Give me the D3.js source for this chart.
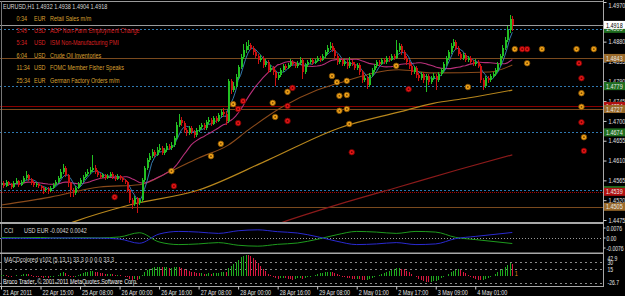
<!DOCTYPE html>
<html><head><meta charset="utf-8">
<script src="https://cdn.jsdelivr.net/npm/d3@7"></script>
<style>html,body{margin:0;padding:0;background:#000;overflow:hidden}</style>
</head><body><svg id="c" width="625" height="296"></svg>
<script>
// ---------- DATA ----------
const firstOpen = 1.4555;
const closes = [
1.4559,1.4552,1.4561,1.4557,1.4550,1.4559,1.4563,1.4555,1.4561,1.4570,
1.4577,1.4568,1.4559,1.4555,1.4557,1.4552,1.4548,1.4543,1.4546,1.4541,
1.4548,1.4555,1.4561,1.4570,1.4584,1.4593,1.4577,1.4559,1.4543,1.4536,
1.4548,1.4557,1.4566,1.4573,1.4580,1.4584,1.4589,1.4593,1.4584,1.4577,
1.4573,1.4577,1.4570,1.4575,1.4580,1.4573,1.4568,1.4575,1.4570,1.4566,
1.4561,1.4543,1.4520,1.4511,1.4525,1.4514,1.4520,1.4566,1.4593,1.4611,
1.4620,1.4629,1.4623,1.4634,1.4638,1.4627,1.4634,1.4643,1.4638,1.4645,
1.4661,1.4691,1.4702,1.4695,1.4679,1.4672,1.4684,1.4675,1.4668,1.4679,
1.4686,1.4691,1.4684,1.4697,1.4702,1.4693,1.4707,1.4700,1.4714,1.4720,
1.4716,1.4700,1.4790,1.4770,1.4780,1.4800,1.4822,1.4845,1.4862,1.4870,
1.4872,1.4866,1.4857,1.4848,1.4838,1.4843,1.4827,1.4834,1.4816,1.4820,
1.4811,1.4797,1.4804,1.4816,1.4825,1.4820,1.4827,1.4834,1.4829,1.4825,
1.4832,1.4838,1.4811,1.4827,1.4834,1.4838,1.4832,1.4836,1.4843,1.4838,
1.4847,1.4857,1.4866,1.4870,1.4861,1.4847,1.4834,1.4838,1.4829,1.4834,
1.4825,1.4834,1.4829,1.4820,1.4827,1.4811,1.4793,1.4797,1.4782,1.4804,
1.4816,1.4825,1.4834,1.4829,1.4838,1.4834,1.4843,1.4838,1.4847,1.4843,
1.4861,1.4870,1.4857,1.4843,1.4834,1.4825,1.4811,1.4820,1.4804,1.4797,
1.4807,1.4793,1.4802,1.4788,1.4797,1.4802,1.4793,1.4807,1.4816,1.4829,
1.4843,1.4857,1.4870,1.4879,1.4866,1.4852,1.4843,1.4850,1.4838,1.4843,
1.4834,1.4829,1.4834,1.4825,1.4793,1.4779,1.4797,1.4793,1.4802,1.4807,
1.4816,1.4829,1.4847,1.4866,1.4884,1.4906,1.4932,1.4918];
const highs = [
1.4566,1.4563,1.4566,1.4564,1.4560,1.4563,1.4570,1.4566,1.4565,1.4575,
1.4586,1.4580,1.4571,1.4563,1.4561,1.4560,1.4555,1.4551,1.4550,1.4549,
1.4552,1.4559,1.4565,1.4575,1.4590,1.4602,1.4597,1.4580,1.4562,1.4548,
1.4552,1.4561,1.4570,1.4578,1.4585,1.4590,1.4596,1.4623,1.4600,1.4588,
1.4581,1.4582,1.4580,1.4579,1.4584,1.4583,1.4577,1.4580,1.4578,1.4573,
1.4569,1.4564,1.4546,1.4524,1.4529,1.4528,1.4524,1.4570,1.4598,1.4616,
1.4626,1.4636,1.4633,1.4641,1.4648,1.4642,1.4639,1.4650,1.4647,1.4652,
1.4666,1.4697,1.4715,1.4708,1.4699,1.4684,1.4688,1.4689,1.4679,1.4683,
1.4691,1.4696,1.4695,1.4702,1.4708,1.4706,1.4711,1.4712,1.4718,1.4726,
1.4730,1.4722,1.4796,1.4795,1.4788,1.4806,1.4828,1.4852,1.4875,1.4880,
1.4884,1.4878,1.4870,1.4861,1.4852,1.4849,1.4847,1.4840,1.4838,1.4826,
1.4824,1.4815,1.4810,1.4820,1.4830,1.4829,1.4832,1.4840,1.4838,1.4833,
1.4837,1.4845,1.4842,1.4831,1.4839,1.4843,1.4842,1.4841,1.4848,1.4847,
1.4852,1.4862,1.4872,1.4880,1.4878,1.4865,1.4851,1.4843,1.4842,1.4840,
1.4838,1.4845,1.4839,1.4833,1.4832,1.4831,1.4815,1.4803,1.4801,1.4809,
1.4821,1.4830,1.4839,1.4838,1.4843,1.4842,1.4848,1.4847,1.4852,1.4851,
1.4884,1.4877,1.4874,1.4861,1.4847,1.4838,1.4829,1.4825,1.4824,1.4808,
1.4812,1.4811,1.4806,1.4806,1.4802,1.4808,1.4806,1.4812,1.4821,1.4834,
1.4848,1.4862,1.4876,1.4886,1.4883,1.4870,1.4856,1.4855,1.4854,1.4848,
1.4847,1.4839,1.4840,1.4838,1.4829,1.4797,1.4802,1.4801,1.4807,1.4812,
1.4821,1.4834,1.4852,1.4872,1.4890,1.4915,1.4940,1.4938];
const lows = [
1.4550,1.4547,1.4549,1.4553,1.4545,1.4548,1.4556,1.4551,1.4552,1.4558,
1.4566,1.4564,1.4555,1.4550,1.4551,1.4548,1.4544,1.4535,1.4538,1.4534,
1.4538,1.4545,1.4552,1.4558,1.4567,1.4580,1.4573,1.4550,1.4527,1.4528,
1.4532,1.4545,1.4553,1.4562,1.4570,1.4576,1.4580,1.4585,1.4580,1.4572,
1.4568,1.4570,1.4566,1.4567,1.4572,1.4569,1.4563,1.4565,1.4566,1.4561,
1.4556,1.4538,1.4514,1.4500,1.4507,1.4491,1.4508,1.4516,1.4562,1.4589,
1.4606,1.4615,1.4618,1.4620,1.4630,1.4622,1.4623,1.4630,1.4633,1.4634,
1.4641,1.4657,1.4686,1.4689,1.4673,1.4665,1.4668,1.4670,1.4662,1.4664,
1.4675,1.4682,1.4679,1.4680,1.4693,1.4688,1.4690,1.4695,1.4697,1.4710,
1.4708,1.4690,1.4695,1.4762,1.4765,1.4775,1.4796,1.4818,1.4840,1.4855,
1.4862,1.4860,1.4850,1.4842,1.4830,1.4833,1.4820,1.4822,1.4808,1.4810,
1.4805,1.4779,1.4792,1.4800,1.4812,1.4815,1.4817,1.4823,1.4824,1.4820,
1.4821,1.4828,1.4795,1.4806,1.4823,1.4830,1.4828,1.4829,1.4833,1.4834,
1.4835,1.4843,1.4853,1.4862,1.4856,1.4842,1.4828,1.4830,1.4824,1.4825,
1.4818,1.4820,1.4824,1.4815,1.4816,1.4805,1.4786,1.4788,1.4772,1.4778,
1.4800,1.4812,1.4821,1.4824,1.4826,1.4830,1.4830,1.4834,1.4835,1.4839,
1.4840,1.4856,1.4850,1.4838,1.4828,1.4819,1.4805,1.4806,1.4798,1.4790,
1.4792,1.4786,1.4766,1.4781,1.4783,1.4792,1.4770,1.4789,1.4803,1.4812,
1.4825,1.4839,1.4852,1.4865,1.4860,1.4847,1.4838,1.4839,1.4833,1.4834,
1.4829,1.4824,1.4825,1.4820,1.4786,1.4770,1.4775,1.4787,1.4789,1.4798,
1.4803,1.4812,1.4825,1.4843,1.4861,1.4880,1.4900,1.4904];

// slow moving averages (bar index, price)
const brownBars = [0,20,40,56,68,80,92,100,114,128,138,161,175,198,207];
const brownVals = [1.4509,1.4527,1.4550,1.4555,1.4584,1.4616,1.4645,1.4679,1.4732,1.4770,1.4788,1.4816,1.4809,1.4811,1.4827];
const goldBars = [25,30,52,80,108,137,161,175,189,207];
const goldVals = [1.4462,1.4472,1.4509,1.4543,1.4611,1.4684,1.4720,1.4740,1.4752,1.4770];
const redMABars = [108,112,140,161,185,207];
const redMAVals = [1.4458,1.4466,1.4516,1.4550,1.4589,1.4623];

// horizontal levels
const levelPrices = [1.4909,1.4843,1.4779,1.4734,1.4727,1.4674,1.4543,1.4539,1.4505];
const levelKinds  = ['pivot','sr','pivot','major','sr','pivot','pivot','majordot','sr'];
const bidPrice = 1.4918;

// news markers (bar index, price)
const orangeBars = [94,110,111,116,134,136,140,137,140,137,140,141,160,208,219,213,189,233,240,235,235,236,69,89,85];
const orangeVals = [1.4738,1.4741,1.4709,1.4766,1.4802,1.4788,1.4791,1.4757,1.4759,1.4723,1.4727,1.4693,1.4825,1.4863,1.4863,1.4831,1.4777,1.4863,1.4863,1.4763,1.4732,1.4663,1.4586,1.4648,1.4620];
const redBars = [98,96,96,118,116,116,211,213,165,234,235,235,236,70,46,142];
const redVals = [1.4745,1.4727,1.4695,1.4775,1.4734,1.4700,1.4863,1.4863,1.4772,1.4831,1.4797,1.4697,1.4632,1.4552,1.4527,1.4629];

// news list
const eventTimes = ['0:34','3:49','5:34','6:04','11:34','25:34'];
const eventCurrencies = ['EUR','USD','USD','USD','USD','EUR'];
const eventNames = ['Retail Sales m/m','ADP Non-Farm Employment Change','ISM Non-Manufacturing PMI','Crude Oil Inventories','FOMC Member Fisher Speaks','German Factory Orders m/m'];
const eventImpact = ['med','high','high','med','med','med'];

// currency strength sub-window (knots)
const cciBars = [0,8,16,24,32,40,48,56,64,72,80,88,96,104,112,120,128,136,144,152,160,168,176,184,192,200,207];
const cciEUR = [-0.0003,-0.0002,-0.0004,0.0001,-0.0002,-0.0001,-0.0008,-0.0040,0.0030,0.0050,0.0045,0.0035,0.0055,0.0062,0.0048,0.0038,0.0010,-0.0025,-0.0050,-0.0045,-0.0035,-0.0050,-0.0045,-0.0005,0.0012,0.0028,0.0042];
const cciUSD = [0.0003,0.0002,0.0004,-0.0001,0.0002,0.0001,0.0008,0.0040,-0.0030,-0.0050,-0.0045,-0.0035,-0.0055,-0.0062,-0.0048,-0.0038,-0.0010,0.0025,0.0050,0.0045,0.0035,0.0050,0.0045,0.0005,-0.0012,-0.0028,-0.0042];

// MACD histogram
const macd = [
2,3,2,-1,-2,1,2,1,3,4, 5,4,2,0,-1,-2,-3,-4,-3,-4,
-3,-1,1,3,6,8,6,3,-1,-3, -1,2,4,6,8,9,10,11,9,8,
7,6,5,5,5,4,3,3,2,1, 0,-3,-6,-8,-7,-8,-6,2,8,13,
16,18,19,19,20,19,19,19,18,18, 19,20,19,17,14,12,11,9,8,7,
6,6,5,5,6,5,6,6,7,8, 9,8,18,22,26,30,35,40,43,45,
44,42,38,34,28,22,16,10,5,2, -2,-5,-6,-5,-4,-5,-6,-7,-8,-7,
-5,-4,-6,-5,-3,-1,1,3,4,6, 7,8,9,9,8,6,4,2,0,-2,
-4,-5,-6,-7,-6,-7,-8,-9,-9,-6, -4,-2,1,3,5,7,9,11,13,15,
17,17,16,14,11,8,4,1,-3,-6, -9,-11,-12,-13,-12,-11,-10,-8,-5,-2,
1,4,8,11,13,14,12,9,6,3, -1,-4,-6,-8,-9,-8,-6,-4,-2,1,
4,8,12,16,20,24,28,26];

// axes (1.4925 is hidden under the bid box in the reference)
const priceTicks = [1.4970,1.4880,1.4835,1.4790,1.4745,1.4700,1.4655,1.4610,1.4565,1.4520,1.4475];
const timeLabelBars = [0,16,32,48,64,80,96,112,128,144,160,176,192];
const timeLabels = ['21 Apr 2011','22 Apr 15:00','25 Apr 08:00','26 Apr 00:00','26 Apr 16:00','27 Apr 08:00','28 Apr 00:00','28 Apr 16:00','29 Apr 08:00','2 May 01:00','2 May 17:00','3 May 09:00','4 May 01:00'];
const cciTicks = [0.0076,0,-0.0076];
const cciTickLabels = ['0.0076','0.00','-0.0076'];
const macdTicks = [42.9,30,15,-26.7];
const macdTickLabels = ['42.9','30','15','-26.7'];

// ---------- DRAW ----------
const svg = d3.select('#c');
const W = 625, AX = 603.5;
const FONT = 'Liberation Sans, Arial, sans-serif';
svg.append('rect').attr('width',W).attr('height',296).attr('fill','#000');

const xs = d3.scaleLinear().domain([0,244]).range([1,603.7]);
const yP = d3.scaleLinear().domain([1.4475,1.4970]).range([220,2]);
const yC = d3.scaleLinear().domain([-0.0076,0.0076]).range([248,228]);
const yM = d3.scaleLinear().domain([0,30]).range([276,262]);

function txt(g,x,y,s,color,size,anchor){
  return g.append('text').attr('transform',`translate(${x},${y}) scale(0.78,1)`)
    .attr('font-family',FONT).attr('font-size',size||7).attr('fill',color)
    .attr('text-anchor',anchor||'start').text(s);
}

const defs = svg.append('defs');
defs.append('clipPath').attr('id','cm').append('rect').attr('x',0).attr('y',2).attr('width',AX).attr('height',220);
defs.append('clipPath').attr('id','cc').append('rect').attr('x',0).attr('y',225).attr('width',AX).attr('height',27);
defs.append('clipPath').attr('id','cd').append('rect').attr('x',0).attr('y',255).attr('width',AX).attr('height',31);

const main = svg.append('g').attr('clip-path','url(#cm)');

// horizontal levels
const levelStyle = {
  pivot:{c:'#2f78b0',dash:'2,2',box:'#1f6e1f'},
  sr:{c:'#7a4a1e',dash:null,box:'#9a6a2a'},
  major:{c:'#8b0000',dash:null,box:'#b01010'},
  majordot:{c:'#a00000',dash:'1,1',box:'#b01010'}
};
levelPrices.forEach((p,k)=>{
  const s = levelStyle[levelKinds[k]];
  main.append('line').attr('x1',0).attr('x2',AX).attr('y1',Math.round(yP(p))+0.5).attr('y2',Math.round(yP(p))+0.5)
    .attr('stroke',s.c).attr('stroke-width',1).attr('stroke-dasharray',s.dash);
});
main.append('line').attr('x1',0).attr('x2',AX).attr('y1',Math.round(yP(bidPrice))+0.5).attr('y2',Math.round(yP(bidPrice))+0.5)
  .attr('stroke','#9a9a9a').attr('stroke-width',1);

// moving averages
function sma(arr,n){return arr.map((_,i)=>d3.mean(arr.slice(Math.max(0,i-n+1),i+1)));}
const lineIdx = d3.line().x((d,i)=>xs(i)).y(d=>yP(d));
const knotLine = (bars)=>d3.line().x((d,i)=>xs(bars[i])).y(d=>yP(d)).curve(d3.curveMonotoneX);
main.append('path').attr('d',knotLine(goldBars)(goldVals)).attr('fill','none').attr('stroke','#b7861c').attr('stroke-width',1.2);
main.append('path').attr('d',knotLine(redMABars)(redMAVals)).attr('fill','none').attr('stroke','#8b1a1a').attr('stroke-width',1.2);
main.append('path').attr('d',knotLine(brownBars)(brownVals)).attr('fill','none').attr('stroke','#8a4a1a').attr('stroke-width',1.1);
main.append('path').attr('d',lineIdx(sma(closes,21))).attr('fill','none').attr('stroke','#b8307a').attr('stroke-width',1.1);
main.append('path').attr('d',lineIdx(sma(closes,5))).attr('fill','none').attr('stroke','#3a86c0').attr('stroke-width',0.9);

// candles
const opens = closes.map((c,i)=> i===0 ? firstOpen : closes[i-1]);
const up = '#22c022', dn = '#cc1111';
const cg = main.append('g').attr('shape-rendering','crispEdges');
closes.forEach((c,i)=>{
  const x = Math.round(xs(i));
  const col = c>=opens[i] ? up : dn;
  cg.append('line').attr('x1',x+0.5).attr('x2',x+0.5).attr('y1',yP(highs[i])).attr('y2',yP(lows[i])).attr('stroke',col);
  const y0 = yP(Math.max(c,opens[i])), y1 = yP(Math.min(c,opens[i]));
  cg.append('rect').attr('x',x-0.5).attr('y',y0).attr('width',2).attr('height',Math.max(1,y1-y0)).attr('fill',col);
});

// news markers
function dot(b,v,fill,stroke){
  main.append('circle').attr('cx',xs(b)).attr('cy',yP(v)).attr('r',2.8).attr('fill',fill).attr('stroke',stroke).attr('stroke-width',0.8);
  main.append('circle').attr('cx',xs(b)).attr('cy',yP(v)).attr('r',0.9).attr('fill',stroke);
}
orangeBars.forEach((b,k)=>dot(b,orangeVals[k],'#eea11a','#7a4a00'));
redBars.forEach((b,k)=>dot(b,redVals[k],'#e01515','#6a0000'));

// header & news text
const tg = svg.append('g');
txt(tg,3,8.5,'EURUSD,H1  1.4932 1.4938 1.4904 1.4918','#d8d8d8',7);
eventTimes.forEach((t,k)=>{
  const col = eventImpact[k]==='high' ? '#d82020' : '#d9a030';
  const yb = 20.5 + k*12.4;
  txt(tg,16.5,yb,t,col,7);
  txt(tg,34,yb,eventCurrencies[k],col,7);
  txt(tg,50,yb,eventNames[k],col,7);
});

// panel frames
svg.append('line').attr('x1',0).attr('x2',AX).attr('y1',1.5).attr('y2',1.5).attr('stroke','#9a9a9a');
svg.append('line').attr('x1',1.5).attr('x2',1.5).attr('y1',1).attr('y2',287).attr('stroke','#777');
svg.append('rect').attr('x',0).attr('y',222).attr('width',AX).attr('height',2).attr('fill','#a8a8a8');
svg.append('rect').attr('x',0).attr('y',252.5).attr('width',AX).attr('height',1.5).attr('fill','#a8a8a8');
svg.append('line').attr('x1',0).attr('x2',AX).attr('y1',286.5).attr('y2',286.5).attr('stroke','#a8a8a8');
svg.append('line').attr('x1',AX).attr('x2',AX).attr('y1',0).attr('y2',287).attr('stroke','#a8a8a8');

// price axis
const pa = svg.append('g').attr('transform',`translate(${AX},0)`)
  .call(d3.axisRight(yP).tickValues(priceTicks).tickFormat(d3.format('.4f')).tickSize(3).tickPadding(2));
pa.select('.domain').remove();
pa.selectAll('line').attr('stroke','#cfcfcf');
pa.selectAll('text').attr('fill','#e0e0e0').attr('font-family',FONT).attr('font-size',7)
  .attr('transform','scale(0.78,1)').attr('x',6.5);
pa.selectAll('.tick').filter(d=>d===1.4970).select('text').attr('dy','0.75em');

// price level boxes
function box(p,bg,fg,label){
  const y = yP(p);
  svg.append('rect').attr('x',AX+0.5).attr('y',y-4).attr('width',W-AX).attr('height',8).attr('fill',bg);
  txt(svg,AX+2.5,y+2.6,label,fg,7);
}
levelPrices.forEach((p,k)=>{ box(p,levelStyle[levelKinds[k]].box,'#e8e8e8',d3.format('.4f')(p)); });
box(bidPrice,'#ffffff','#000000',d3.format('.4f')(bidPrice));

// CCI sub-window
const cw = svg.append('g').attr('clip-path','url(#cc)');
cw.append('line').attr('x1',0).attr('x2',AX).attr('y1',Math.round(yC(0))+0.5).attr('y2',Math.round(yC(0))+0.5)
  .attr('stroke','#9a9a9a').attr('stroke-dasharray','1,2');
const cLine = d3.line().x((d,i)=>xs(cciBars[i])).y(d=>yC(d)).curve(d3.curveMonotoneX);
cw.append('path').attr('d',cLine(cciUSD)).attr('fill','none').attr('stroke','#1e9a1e').attr('stroke-width',1);
cw.append('path').attr('d',cLine(cciEUR)).attr('fill','none').attr('stroke','#2a2ad0').attr('stroke-width',1);
txt(svg,4,233,'CCI','#d8d8d8',7);
txt(svg,24,233,'USD EUR -0.0042 0.0042','#d8d8d8',7);
cciTicks.forEach((v,k)=>{
  svg.append('line').attr('x1',AX).attr('x2',AX+2).attr('y1',yC(v)).attr('y2',yC(v)).attr('stroke','#cfcfcf');
  txt(svg,AX+3,yC(v)+2.5,cciTickLabels[k],'#e0e0e0',6.5);
});

// MACD sub-window
const mw = svg.append('g').attr('clip-path','url(#cd)');
[30,15,-15].forEach(v=>{
  mw.append('line').attr('x1',0).attr('x2',AX).attr('y1',Math.round(yM(v))+0.5).attr('y2',Math.round(yM(v))+0.5)
    .attr('stroke','#8a8a8a').attr('stroke-dasharray','2,3');
});
const mg = mw.append('g').attr('shape-rendering','crispEdges');
macd.forEach((v,i)=>{
  const prev = i===0 ? 0 : macd[i-1];
  const col = v>=prev ? '#1faa1f' : '#d81840';
  const y0 = Math.min(yM(v),yM(0)), y1 = Math.max(yM(v),yM(0));
  mg.append('rect').attr('x',Math.round(xs(i))-0.5).attr('y',y0).attr('width',1.6).attr('height',Math.max(0.5,y1-y0)).attr('fill',col);
});
txt(mw,xs(208),yM(6)+2.5,'1','#e08a1a',7);
txt(svg,4,261.5,'MACDcolored v102 (5,13,1) 33.3 0.0 0.0 33.3','#d8d8d8',7);
txt(svg,3,283.5,'Broco Trader, \u00a9 2001-2011 MetaQuotes Software Corp.','#e8e8e8',7);
macdTicks.forEach((v,k)=>{
  const y = Math.max(258, Math.min(yM(v),282));
  txt(svg,AX+4,y+2.5,macdTickLabels[k],'#e0e0e0',6.5);
});
box(0,'#9a9a9a','#ffffff','0.0000');

// time axis
const ta = svg.append('g').attr('transform','translate(0,286.5)')
  .call(d3.axisBottom(xs).tickValues(timeLabelBars).tickFormat((d,i)=>timeLabels[i]).tickSize(3).tickPadding(1));
ta.select('.domain').remove();
ta.selectAll('line').attr('stroke','#cfcfcf');
ta.selectAll('text').attr('fill','#e0e0e0').attr('font-family',FONT).attr('font-size',7)
  .attr('text-anchor','start').attr('transform','scale(0.78,1)').attr('x',2);
</script></body></html>
